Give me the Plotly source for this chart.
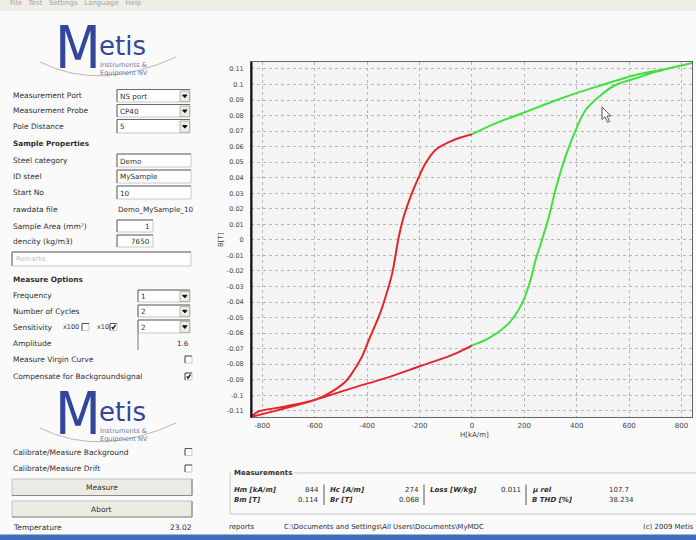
import plotly.graph_objects as go

# ---------------- data ----------------
red_upper_H = [0, -75, -139, -177, -202, -234, -260, -279, -304, -329, -355, -393, -419, -457, -482, -533, -597, -711, -813, -844]
red_upper_B = [0.068, 0.0639, 0.0579, 0.0493, 0.0407, 0.0279, 0.015, 0.002, -0.0214, -0.0364, -0.0493, -0.0643, -0.075, -0.0857, -0.0911, -0.0975, -0.1029, -0.1072, -0.1104, -0.114]
red_lower_H = [-844, -711, -597, -457, -329, -202, -75, 0]
red_lower_B = [-0.114, -0.1083, -0.1029, -0.0954, -0.089, -0.0815, -0.074, -0.068]
green_lower_H = [0, 65, 141, 192, 224, 243, 262, 294, 319, 357, 396, 434, 485, 548, 625, 701, 778, 844]
green_lower_B = [-0.068, -0.0632, -0.0536, -0.0407, -0.0257, -0.0129, -0.003, 0.015, 0.0322, 0.0536, 0.0707, 0.0836, 0.0922, 0.0997, 0.104, 0.1082, 0.1115, 0.114]
green_upper_H = [844, 752, 625, 548, 497, 396, 306, 192, 90, 0]
green_upper_B = [0.114, 0.1104, 0.1061, 0.1024, 0.0997, 0.0943, 0.0889, 0.0815, 0.075, 0.068]

x_tick_vals = [-800, -600, -400, -200, 0, 200, 400, 600, 800]
x_tick_text = ["-800", "-600", "-400", "-200", "0", "200", "400", "600", "800"]
y_tick_vals = [round(-0.11 + 0.01 * i, 2) for i in range(23)]
y_tick_text = ["-0.11", "-0.1", "-0.09", "-0.08", "-0.07", "-0.06", "-0.05", "-0.04", "-0.03", "-0.02", "-0.01", "0",
               "0.01", "0.02", "0.03", "0.04", "0.05", "0.06", "0.07", "0.08", "0.09", "0.1", "0.11"]

meas_row1 = [("Hm [kA/m]", "844"), ("Hc [A/m]", "274"), ("Loss [W/kg]", "0.011"), ("µ rel", "107.7")]
meas_row2 = [("Bm [T]", "0.114"), ("Br [T]", "0.068"), ("", ""), ("B THD [%]", "38.234")]

# ---------------- helpers (pixel -> paper) ----------------
W, H = 696, 540
FONT = "DejaVu Sans"
TXT = "#2f2f2f"
LOGO = "#33479a"


def X(px):
    return px / W


def Y(py):
    return 1 - py / H


shapes = []
annotations = []


def text(x, y, s, size=7.5, color=TXT, anchor="left", family=FONT, angle=0):
    annotations.append(dict(x=X(x), y=Y(y), xref="paper", yref="paper", text=s, showarrow=False,
                            xanchor=anchor, yanchor="middle", textangle=angle, borderpad=0,
                            font=dict(family=family, size=size, color=color)))


def rect(x0, y0, x1, y1, fill="rgba(0,0,0,0)", line="rgba(0,0,0,0)", width=1, layer="above"):
    shapes.append(dict(type="rect", xref="paper", yref="paper", x0=X(x0), x1=X(x1), y0=Y(y1), y1=Y(y0),
                       fillcolor=fill, line=dict(color=line, width=width), layer=layer))


def line(x0, y0, x1, y1, color="#666", width=1, dash="solid"):
    shapes.append(dict(type="line", xref="paper", yref="paper", x0=X(x0), x1=X(x1), y0=Y(y0), y1=Y(y1),
                       line=dict(color=color, width=width, dash=dash), layer="above"))


def path(pts, fill="rgba(0,0,0,0)", color="#666", width=1, closed=False):
    d = "M " + " L ".join(f"{X(a):.5f},{Y(b):.5f}" for a, b in pts)
    if closed:
        d += " Z"
    shapes.append(dict(type="path", xref="paper", yref="paper", path=d, fillcolor=fill,
                       line=dict(color=color, width=width), layer="above"))


def qpath(p0, c, p1, color="#b0b0b0", width=1):
    d = f"M {X(p0[0]):.5f},{Y(p0[1]):.5f} Q {X(c[0]):.5f},{Y(c[1]):.5f} {X(p1[0]):.5f},{Y(p1[1]):.5f}"
    shapes.append(dict(type="path", xref="paper", yref="paper", path=d,
                       line=dict(color=color, width=width), layer="above"))


def editbox(x0, y0, x1, y1):
    rect(x0, y0, x1, y1, fill="#ffffff", line="#c8c8c8")
    line(x0, y0, x1, y0, "#6a6a6a", 1)
    line(x0, y0, x0, y1, "#6a6a6a", 1)


def dropdown(x0, y0, x1, y1, val):
    editbox(x0, y0, x1, y1)
    rect(x1 - 10, y0 + 1.5, x1 - 0.5, y1 - 0.5, fill="#ecebe4", line="#b5b5b0")
    cx, cy = x1 - 5.2, (y0 + y1) / 2 + 0.5
    path([(cx - 2.2, cy - 1.2), (cx + 2.2, cy - 1.2), (cx, cy + 1.4)], fill="#111", color="#111", closed=True)
    text(x0 + 2, (y0 + y1) / 2 + 0.5, val, size=7.2)


def checkbox(x, y, checked=False):
    rect(x, y - 3.5, x + 7, y + 3.5, fill="#ffffff", line="#c8c8c8")
    line(x, y - 3.5, x + 7, y - 3.5, "#555", 1)
    line(x, y - 3.5, x, y + 3.5, "#555", 1)
    if checked:
        path([(x + 1.8, y - 0.2), (x + 3, y + 1.8), (x + 5.5, y - 2)], color="#222", width=1.4)


def button(x0, y0, x1, y1, label):
    rect(x0, y0, x1, y1, fill="#ecebe3", line="#c4c3bb")
    line(x0, y1, x1, y1, "#8a8a85", 1.2)
    line(x1, y0, x1, y1, "#8a8a85", 1.2)
    text((x0 + x1) / 2, (y0 + y1) / 2 + 0.5, label, size=7.5, anchor="center")


def logo(dy):
    qpath((40, 62 + dy), (100, 92 + dy), (176, 57 + dy), color="#b9b9b9", width=1)
    text(78, 47.5 + dy, "M", size=59, color=LOGO, anchor="center",
         family="Liberation Sans Narrow, DejaVu Sans Condensed, DejaVu Sans")
    text(98, 45.5 + dy, "etis", size=26, color=LOGO, family="DejaVu Sans")
    text(99, 64.5 + dy, "Instruments &", size=6.6, color="#6b78a8")
    text(99, 73 + dy, "Equipment NV", size=6.6, color="#6b78a8")


# ---------------- window chrome ----------------
rect(0, 0, 696, 11, fill="#efeee6", layer="below")
text(9, 2.5, "File   Test   Settings   Language   Help", size=7, color="#a5a5a0")
rect(0, 534.5, 696, 540, fill="#3f6fb8", layer="above")

# ---------------- left panel ----------------
logo(0)
text(12, 95, "Measurement Port")
dropdown(117, 89.5, 190, 102, "NS port")
text(12, 111, "Measurement Probe")
dropdown(117, 104.5, 190, 117, "CP40")
text(12, 127, "Pole Distance")
dropdown(117, 119.5, 190, 133, "5")
text(12, 143, "<b>Sample Properties</b>", size=7.3)

text(12, 160, "Steel category")
editbox(117, 154, 191, 167)
text(119, 161, "Demo", size=7.2)
text(12, 176.5, "ID steel")
editbox(117, 170, 191, 183)
text(119, 177, "MySample", size=7.2)
text(12, 192.5, "Start No")
editbox(117, 186, 191, 199)
text(119, 193, "10", size=7.2)
text(12, 209, "rawdata file")
text(117, 209, "Demo_MySample_10", size=7.2)
text(12, 226, "Sample Area (mm²)")
editbox(117, 220, 153, 232)
text(151, 226.5, "1", size=7.2, anchor="right")
text(12, 241.5, "dencity (kg/m3)")
editbox(117, 235, 153, 247)
text(151, 241.5, "7650", size=7.2, anchor="right")
editbox(12, 252, 191, 266)
text(15, 259, "Remarks", size=6.8, color="#c0c0c0")

text(12, 279, "<b>Measure Options</b>", size=7.3)
text(12, 295, "Frequency")
dropdown(138, 290, 190, 302, "1")
text(12, 311, "Number of Cycles")
dropdown(138, 305, 190, 317, "2")
text(12, 327, "Sensitivity")
text(62, 327, "x100", size=6.5)
checkbox(82, 327, False)
text(96, 327, "x10", size=6.5)
checkbox(110, 327, True)
dropdown(138, 320, 190, 333, "2")
line(138, 333, 138, 350, "#777", 1)
text(12, 343, "Amplitude")
text(190, 343, "1.6", size=7.2, anchor="right")
text(12, 359.5, "Measure Virgin Curve")
checkbox(185, 359.5, False)
text(12, 376.5, "Compensate for Backgroundsignal")
checkbox(185, 376.5, True)

logo(366)
text(12, 452, "Calibrate/Measure Background")
checkbox(185, 452, False)
text(12, 468.5, "Calibrate/Measure Drift")
checkbox(185, 468.5, False)
button(12, 479, 192, 495.5, "Measure")
button(12, 501, 192, 517, "Abort")
text(12, 527, "Temperature")
text(193, 527, "23.02", anchor="right")

# ---------------- measurements box ----------------
rect(230, 473, 702, 514, line="#c9c9c9")
rect(232, 469, 293, 477, fill="#fafafa", line="#fafafa")
text(233, 473, "<b>Measurements</b>", size=7)
label_x = [233, 329, 429, 531]
value_right = [320, 420, 522, None]
seps = [324, 424, 526]
for i, ((l1, v1), (l2, v2)) in enumerate(zip(meas_row1, meas_row2)):
    text(label_x[i], 490, f"<b><i>{l1}</i></b>", size=7)
    if l2:
        text(label_x[i], 499.5, f"<b><i>{l2}</i></b>", size=7)
    if value_right[i] is not None:
        text(value_right[i], 490, v1, size=7, anchor="right")
        if v2:
            text(value_right[i], 499.5, v2, size=7, anchor="right")
    else:
        text(608, 490, v1, size=7)
        text(608, 499.5, v2, size=7)
for s in seps:
    line(s, 484.5, s, 505, "#555", 1)

text(228, 527, "reports", size=7)
text(283, 527, "C:\\Documents and Settings\\All Users\\Documents\\MyMDC", size=7)
text(695, 527, "(c) 2009 Metis", size=7, anchor="right")

# ---------------- chart ----------------
line(251.5, 62, 251.5, 417.5, "#111", 2)
text(221, 240, "B[T]", size=7, color="#444", angle=-90, anchor="center")
text(474, 434.5, "H[kA/m]", size=7, color="#444", anchor="center")

# cursor
path([(602, 107), (602, 119.5), (605, 116.8), (607.6, 122.3), (609.6, 121.4), (607, 116), (610.8, 116)],
     fill="#ffffff", color="#555", width=1, closed=True)

fig = go.Figure()
fig.add_trace(go.Scatter(x=red_upper_H + red_lower_H, y=red_upper_B + red_lower_B, mode="lines",
                         line=dict(color="#e2262a", width=2, shape="spline", smoothing=0.9),
                         hoverinfo="skip"))
fig.add_trace(go.Scatter(x=green_lower_H + green_upper_H, y=green_lower_B + green_upper_B, mode="lines",
                         line=dict(color="#3fe03f", width=2, shape="spline", smoothing=0.9),
                         hoverinfo="skip"))

fig.update_layout(
    width=W, height=H, margin=dict(l=0, r=0, t=0, b=0, pad=0),
    paper_bgcolor="#fafafa", plot_bgcolor="#f4f4f4",
    showlegend=False,
    font=dict(family=FONT, size=7, color="#444"),
    xaxis=dict(domain=[X(251), X(692)], range=[-843, 840], tickvals=x_tick_vals, ticktext=x_tick_text,
               showgrid=True, gridcolor="#b8b8b8", griddash="dot", gridwidth=1, zeroline=False,
               showline=True, linecolor="#666", linewidth=1, mirror=True, ticks="",
               tickfont=dict(size=7, color="#444"), ticklabelstandoff=2, fixedrange=True),
    yaxis=dict(domain=[Y(417), Y(62)], range=[-0.114, 0.1145], tickvals=y_tick_vals, ticktext=y_tick_text,
               showgrid=True, gridcolor="#b8b8b8", griddash="dot", gridwidth=1, zeroline=False,
               showline=True, linecolor="#666", linewidth=1, mirror=True, ticks="",
               tickfont=dict(size=6.5, color="#444"), ticklabelstandoff=5, fixedrange=True),
    shapes=shapes, annotations=annotations,
)

fig.write_html("out.html")
